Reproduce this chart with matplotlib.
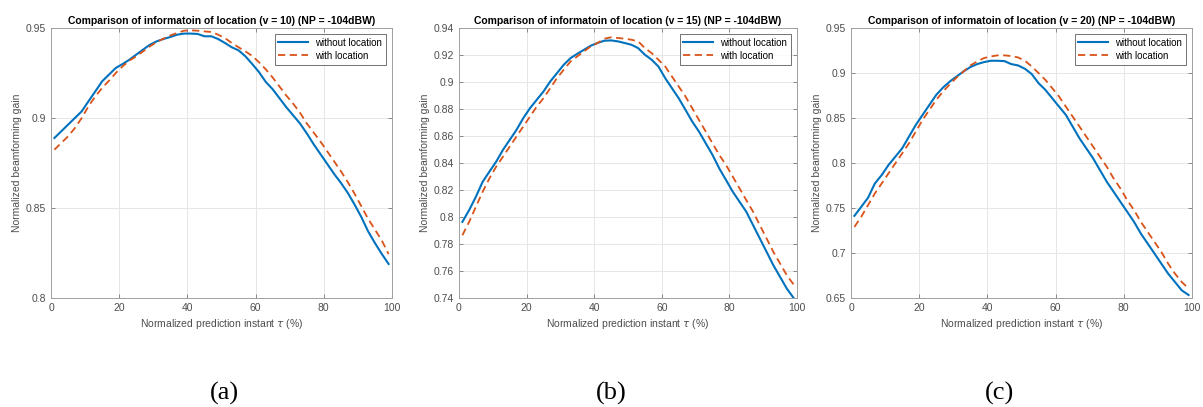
import numpy as np
import matplotlib
matplotlib.use("Agg")
import matplotlib.pyplot as plt

# prediction instants (%), odd steps
x = list(range(1, 100, 2))

# (a) v = 10
a_without = [0.8889, 0.8926, 0.8963, 0.9000, 0.9037, 0.9093, 0.9148, 0.9204, 0.9241, 0.9278,
             0.9300, 0.9324, 0.9352, 0.9380, 0.9407, 0.9426, 0.9439, 0.9450, 0.9463, 0.9469,
             0.9469, 0.9467, 0.9454, 0.9454, 0.9439, 0.9417, 0.9393, 0.9376, 0.9343, 0.9300,
             0.9255, 0.9200, 0.9160, 0.9110, 0.9060, 0.9015, 0.8970, 0.8915, 0.8855, 0.8800,
             0.8745, 0.8690, 0.8640, 0.8585, 0.8520, 0.8450, 0.8370, 0.8305, 0.8245, 0.8189]
a_with = [0.8824, 0.8861, 0.8898, 0.8944, 0.9000, 0.9065, 0.9120, 0.9167, 0.9207, 0.9250,
          0.9287, 0.9319, 0.9343, 0.9370, 0.9398, 0.9422, 0.9441, 0.9459, 0.9472, 0.9485,
          0.9487, 0.9485, 0.9481, 0.9478, 0.9463, 0.9444, 0.9417, 0.9393, 0.9370, 0.9345,
          0.9310, 0.9270, 0.9225, 0.9175, 0.9125, 0.9080, 0.9030, 0.8970, 0.8920, 0.8870,
          0.8815, 0.8760, 0.8705, 0.8645, 0.8580, 0.8510, 0.8440, 0.8380, 0.8320, 0.8244]

# (b) v = 15
b_without = [0.7964, 0.8051, 0.8150, 0.8261, 0.8336, 0.8410, 0.8497, 0.8571, 0.8645, 0.8732,
             0.8806, 0.8868, 0.8930, 0.9004, 0.9066, 0.9128, 0.9177, 0.9209, 0.9239, 0.9269,
             0.9289, 0.9306, 0.9308, 0.9301, 0.9289, 0.9276, 0.9251, 0.9202, 0.9165, 0.9115,
             0.9029, 0.8954, 0.8880, 0.8794, 0.8707, 0.8633, 0.8546, 0.8460, 0.8360, 0.8274,
             0.8187, 0.8113, 0.8039, 0.7940, 0.7841, 0.7742, 0.7643, 0.7556, 0.7469, 0.7400]
b_with = [0.7865, 0.7964, 0.8076, 0.8187, 0.8286, 0.8373, 0.8447, 0.8521, 0.8596, 0.8670,
          0.8744, 0.8818, 0.8880, 0.8954, 0.9029, 0.9091, 0.9152, 0.9190, 0.9227, 0.9264,
          0.9289, 0.9321, 0.9331, 0.9326, 0.9321, 0.9313, 0.9301, 0.9251, 0.9214, 0.9165,
          0.9115, 0.9041, 0.8967, 0.8893, 0.8806, 0.8719, 0.8633, 0.8546, 0.8460, 0.8385,
          0.8299, 0.8212, 0.8125, 0.8039, 0.7940, 0.7841, 0.7742, 0.7655, 0.7568, 0.7500]

# (c) v = 20
c_without = [0.7413, 0.7513, 0.7614, 0.7773, 0.7866, 0.7978, 0.8070, 0.8163, 0.8293, 0.8423,
             0.8535, 0.8646, 0.8757, 0.8839, 0.8906, 0.8962, 0.9017, 0.9066, 0.9099, 0.9121,
             0.9136, 0.9136, 0.9132, 0.9099, 0.9084, 0.9047, 0.8988, 0.8887, 0.8813, 0.8720,
             0.8627, 0.8535, 0.8405, 0.8275, 0.8163, 0.8052, 0.7922, 0.7792, 0.7681, 0.7569,
             0.7458, 0.7346, 0.7216, 0.7105, 0.6994, 0.6882, 0.6771, 0.6678, 0.6585, 0.6533]
c_with = [0.7290, 0.7402, 0.7532, 0.7662, 0.7773, 0.7885, 0.7996, 0.8107, 0.8219, 0.8349,
          0.8479, 0.8590, 0.8702, 0.8794, 0.8876, 0.8950, 0.9017, 0.9084, 0.9129, 0.9166,
          0.9184, 0.9196, 0.9196, 0.9188, 0.9173, 0.9136, 0.9073, 0.8999, 0.8924, 0.8832,
          0.8739, 0.8627, 0.8516, 0.8405, 0.8293, 0.8182, 0.8070, 0.7959, 0.7829, 0.7718,
          0.7588, 0.7476, 0.7346, 0.7235, 0.7123, 0.7012, 0.6882, 0.6771, 0.6678, 0.6604]

speeds = [10, 15, 20]
ylims = [(0.8, 0.95), (0.74, 0.94), (0.65, 0.95)]
yticks = [[0.8, 0.85, 0.9, 0.95],
          [0.74, 0.76, 0.78, 0.8, 0.82, 0.84, 0.86, 0.88, 0.9, 0.92, 0.94],
          [0.65, 0.7, 0.75, 0.8, 0.85, 0.9, 0.95]]
captions = ["(a)", "(b)", "(c)"]

plt.rcParams['font.family'] = ['Liberation Sans', 'DejaVu Sans']

fig = plt.figure(figsize=(12.03, 4.07), dpi=100)
lefts = [51, 459, 851]
widths = [341, 338, 341]
cap_x = [224, 611, 1000]
datas = [(a_without, a_with), (b_without, b_with), (c_without, c_with)]
gray = "#4d4d4d"

for i in range(3):
    ax = fig.add_axes([lefts[i] / 1203, 1 - 298 / 407, widths[i] / 1203, 270 / 407])
    wo, wi = datas[i]
    ax.plot(x, wo, color="#0072BD", lw=1.5, label="without location")
    ax.plot(x, wi, color="#D95319", lw=1.3, ls=(0, (4, 2.5)), label="with location")
    ax.set_xlim(0, 100)
    ax.set_ylim(*ylims[i])
    ax.set_xticks([0, 20, 40, 60, 80, 100])
    ax.set_yticks(yticks[i])
    ax.set_yticklabels([("%g" % t) for t in yticks[i]])
    ax.grid(True, color="#e6e6e6", lw=0.7)
    ax.set_axisbelow(True)
    ax.tick_params(direction="in", length=3, width=0.6, colors="#777777", labelcolor=gray,
                   labelsize=7.5, top=True, right=True)
    for s in ax.spines.values():
        s.set_color("#a0a0a0")
        s.set_linewidth(0.7)
    ax.set_title("Comparison of informatoin of location (v = %d) (NP = -104dBW)" % speeds[i],
                 fontsize=7.5, fontweight="bold", pad=3)
    ax.set_xlabel(r"Normalized prediction instant $\tau$ (%)", fontsize=7.5, color=gray, labelpad=3)
    ax.set_ylabel("Normalized beamforming gain", fontsize=7.5, color=gray, labelpad=3)
    leg = ax.legend(loc="upper right", fontsize=7, frameon=True, fancybox=False,
                    borderpad=0.4, handlelength=3.0, labelspacing=0.3, borderaxespad=0.6)
    leg.get_frame().set_edgecolor("#333333")
    leg.get_frame().set_linewidth(0.6)
    fig.text(cap_x[i] / 1203, 1 - 393 / 407, captions[i], ha="center", va="center",
             fontsize=19, family="Liberation Serif")

fig.savefig("out.png", dpi=100)
